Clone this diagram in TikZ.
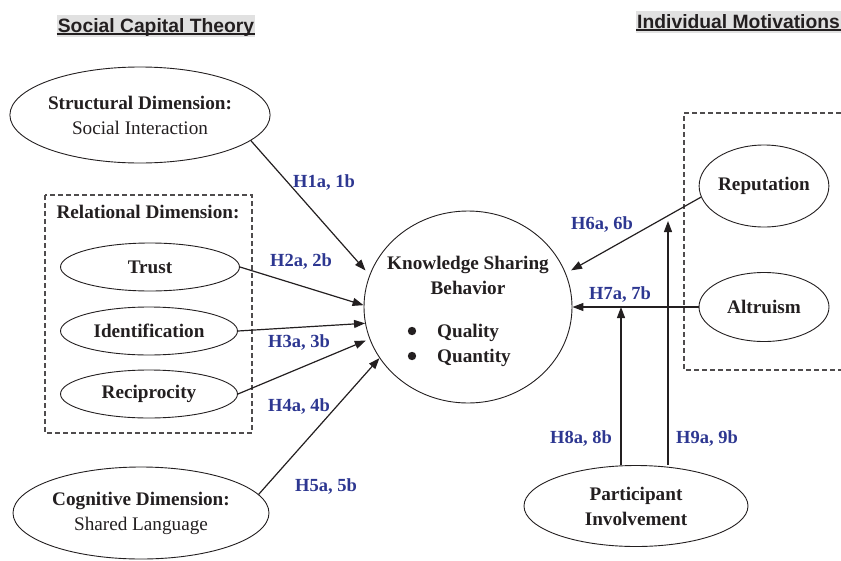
\documentclass[tikz,border=0pt]{standalone}
\usepackage{fontspec}
\setmainfont{Liberation Serif}
\newfontfamily\headfont{Liberation Sans}
\usetikzlibrary{shapes.geometric,arrows.meta,calc}
\definecolor{ink}{RGB}{35,31,32}
\definecolor{hyp}{RGB}{45,55,145}
\definecolor{hbg}{RGB}{225,225,225}
\begin{document}
\begin{tikzpicture}[x=1pt,y=-1pt,
  every node/.style={text=ink},
  oval/.style={ellipse,draw=ink,line width=0.9pt,inner sep=0pt,align=center,
    font=\fontsize{19.2}{25}\selectfont\bfseries},
  txt/.style={font=\fontsize{19.2}{25}\selectfont\bfseries,inner sep=0pt},
  hyplabel/.style={text=hyp,font=\fontsize{18.5}{22}\selectfont\bfseries,anchor=base,inner sep=0pt},
  arr/.style={draw=ink,line width=1.2pt,-{Triangle[length=11pt,width=8pt]}},
  dbox/.style={draw=ink!80,line width=1.1pt,dash pattern=on 5pt off 3pt},
  head/.style={fill=hbg,font=\headfont\fontsize{19.3}{22}\selectfont\bfseries,
    inner xsep=1pt,inner ysep=0pt,text height=17pt,text depth=5pt}
]
\useasboundingbox (0,0) rectangle (841,560);

% headings
\node[head,anchor=base] (hs) at (156,32) {Social Capital Theory};
\draw[ink,line width=1.4pt] ([yshift=-2pt]hs.base west) -- ([yshift=-2pt]hs.base east);
\node[head,anchor=base west] (hi) at (636,28) {Individual Motivations};
\draw[ink,line width=1.4pt] ([yshift=-2pt]hi.base west) -- ([yshift=-2pt]hi.base east);

% dashed boxes
\draw[dbox] (45,195) rectangle (252,433);
\draw[dbox] (841,113) -- (684,113) -- (684,370) -- (841,370);
\node[txt,anchor=base] (rel) at (148,218) {Relational Dimension:};

% nodes
\node[oval,minimum width=258,minimum height=96] (struct) at (140,115)
  {Structural Dimension:\\{\mdseries Social Interaction}};
\node[oval,minimum width=179,minimum height=48] (trust) at (150,267) {Trust};
\node[oval,minimum width=177,minimum height=48] (ident) at (149,331) {Identification};
\node[oval,minimum width=177,minimum height=48] (recip) at (149,394) {Reciprocity};
\node[oval,minimum width=256,minimum height=92] (cogn) at (141,513)
  {Cognitive Dimension:\\{\mdseries Shared Language}};
\node[oval,minimum width=208,minimum height=192] (ksb) at (468,307) {};
\node[txt,anchor=base] (k1) at (468,269) {Knowledge Sharing};
\node[txt,anchor=base] (k2) at (468,294) {Behavior};
\fill[ink] (412,331) circle (4.2);
\fill[ink] (412,356) circle (4.2);
\node[txt,anchor=base west] (q1) at (437,337) {Quality};
\node[txt,anchor=base west] (q2) at (437,362) {Quantity};
\node[oval,minimum width=128,minimum height=82] (rep) at (764,186) {Reputation};
\node[oval,minimum width=130,minimum height=69] (alt) at (764,307) {Altruism};
\node[oval,minimum width=224,minimum height=81] (part) at (636,506) {Participant\\Involvement};

% connectors
\draw[arr,shorten >=6pt] (struct.-13) -- (ksb.162);
\draw[arr] (trust.east) -- (ksb.179);
\draw[arr] (ident.east) -- (ksb.189);
\draw[arr,shorten >=4pt] (recip.east) -- (ksb.198);
\draw[arr] (cogn.9) -- (ksb.210);
\draw[arr,shorten >=6pt] (rep.190) -- (ksb.19);
\draw[arr] (alt) -- (ksb);
\coordinate (j8) at (621,307);
\coordinate (j9) at (668,221);
\draw[arr] (part.north -| j8) -- (j8);
\draw[arr] (part.north -| j9) -- (j9);

% hypothesis labels
\node[hyplabel] (l1) at (324,187) {H1a, 1b};
\node[hyplabel] (l2) at (301,266) {H2a, 2b};
\node[hyplabel] (l3) at (299,347) {H3a, 3b};
\node[hyplabel] (l4) at (299,411) {H4a, 4b};
\node[hyplabel] (l5) at (326,491) {H5a, 5b};
\node[hyplabel] (l6) at (602,229) {H6a, 6b};
\node[hyplabel] (l7) at (620,299) {H7a, 7b};
\node[hyplabel] (l8) at (581,443) {H8a, 8b};
\node[hyplabel] (l9) at (707,443) {H9a, 9b};
\end{tikzpicture}
\end{document}
